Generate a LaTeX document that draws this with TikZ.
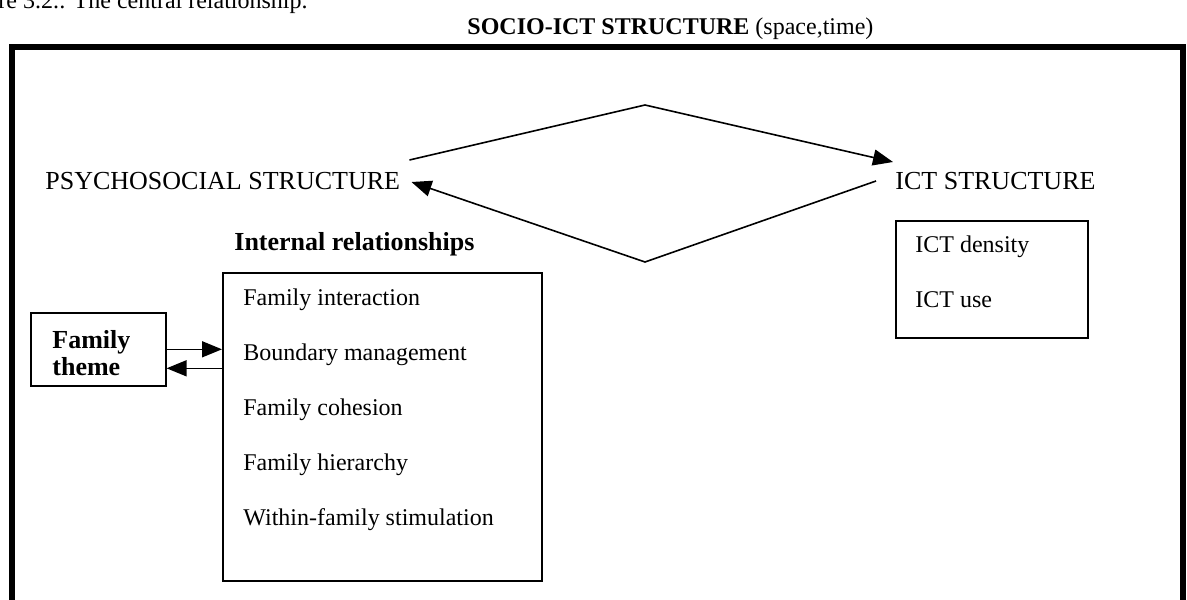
\documentclass[tikz,border=0pt]{standalone}
\usepackage{fontspec}
\setmainfont{Liberation Serif}
\usetikzlibrary{arrows.meta}
\begin{document}
\begin{tikzpicture}
[x=0.5pt, y=-0.5pt, font=\fontsize{12}{14}\selectfont, line join=miter, >={Triangle[length=10pt,width=8pt]},
 txt/.style={anchor=base west, inner sep=0pt},
 big/.style={txt, font=\fontsize{13}{15}\selectfont},
 hd/.style={txt, font=\fontsize{13}{15}\selectfont\bfseries},
 box/.style={draw, line width=0.8pt, anchor=north west, inner sep=0pt}]
\useasboundingbox (0,0) rectangle (1187,599);
\node[txt] (cap) at (-2,9) {re 3.2.: The central relationship.};
\node[txt] (title) at (467,35) {\textbf{SOCIO-ICT STRUCTURE} (space,time)};
\draw[line width=3pt] (12,620) -- (12,47) -- (1183,47) -- (1183,620);
\node[big] (psy) at (45,189) {PSYCHOSOCIAL STRUCTURE};
\node[big] (ict) at (895,189) {ICT STRUCTURE};
\coordinate (up) at (645,105);
\coordinate (dn) at (645,262);
\draw[->, line width=0.8pt] ([shift={(9,-29)}]psy.base east) -- (up) -- ([shift={(-2,-27)}]ict.base west);
\draw[->, line width=0.8pt] ([shift={(-19,-8)}]ict.base west) -- (dn) -- ([shift={(11,-7)}]psy.base east);
\node[hd] (inrel) at (234,250) {Internal relationships};
\node[box, minimum width=159.5pt, minimum height=154pt] (rel) at (222,272) {};
\foreach \i/\t in {0/Family interaction, 1/Boundary management, 2/Family cohesion, 3/Family hierarchy, 4/Within-family stimulation}
\node[txt] (item\i) at (243,{305+55*\i}) {\t};
\node[box, minimum width=67.5pt, minimum height=36.5pt] (theme) at (30,312) {};
\node[hd] (fam) at (52,348) {Family};
\node[hd] (thm) at (52,375) {theme};
\coordinate (back) at ([yshift=-9.5pt]theme.east);
\draw[->, line width=0.8pt] (theme.east) -- (theme.east -| rel.west);
\draw[->, line width=0.8pt] (back -| rel.west) -- (back);
\node[box, minimum width=96pt, minimum height=58.5pt] (ictbox) at (895,220) {};
\node[txt] (dens) at (915,252) {ICT density};
\node[txt] (use) at (915,307) {ICT use};
\end{tikzpicture}
\end{document}
